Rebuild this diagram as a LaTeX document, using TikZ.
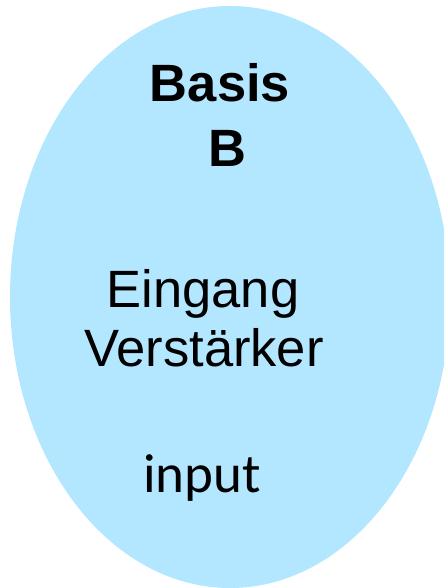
\documentclass[tikz,border=0pt]{standalone}
\usepackage{fontspec}
\setmainfont{Liberation Sans}
\newfontfamily\inputfont{Carlito}
\usetikzlibrary{calc}
\definecolor{basisblue}{RGB}{179,230,255}
\def\Width{444}
\def\Height{588}
\def\Rx{220}
\def\Ry{291}
\def\Cx{230}
\def\Cy{291}
\def\FontSize{52.5}

\begin{document}
\begin{tikzpicture}[x=1pt,y=1pt,
    label text/.style={anchor=base, inner sep=0pt, font=\fontsize{\FontSize}{62}\selectfont}]
  \useasboundingbox (0,0) rectangle (\Width,\Height);
  \clip (0,0) rectangle (\Width,\Height);
  \coordinate (C) at (\Cx,\Cy);
  % ellipse
  \fill [basisblue] (C) ellipse [x radius=\Rx pt, y radius=\Ry pt];
  % labels
  \node [label text, font=\fontsize{\FontSize}{62}\selectfont\bfseries] (basis) at (220,486) {Basis};
  \node [label text, font=\fontsize{\FontSize}{62}\selectfont\bfseries] (basisB) at (227,421) {B};
  \node [label text] (eingang) at (203,280) {Eingang};
  \node [label text] (verst) at (204,221) {Verstärker};
  \node [label text, font=\fontsize{55}{66}\selectfont\inputfont] (input) at (202,95) {input};
\end{tikzpicture}
\end{document}
